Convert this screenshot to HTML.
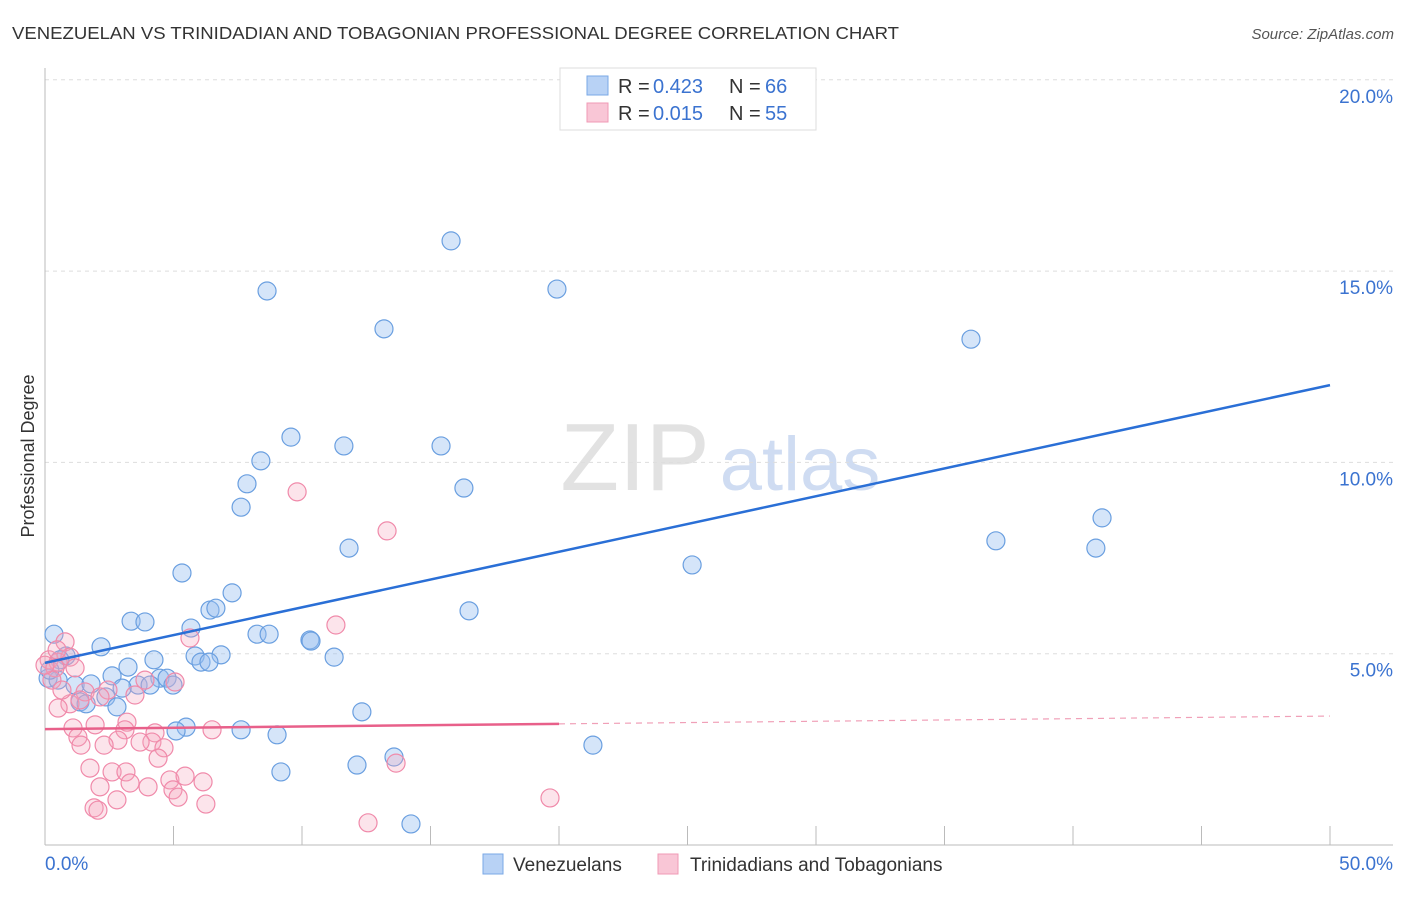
<!DOCTYPE html>
<html><head><meta charset="utf-8"><style>
body{margin:0;background:#fff;font-family:"Liberation Sans",sans-serif;}
svg text{font-family:"Liberation Sans",sans-serif;}
</style></head><body>
<svg id="chart" width="1406" height="892" xmlns="http://www.w3.org/2000/svg">
<text x="12" y="39" font-size="17.5" fill="#333" textLength="887" lengthAdjust="spacingAndGlyphs">VENEZUELAN VS TRINIDADIAN AND TOBAGONIAN PROFESSIONAL DEGREE CORRELATION CHART</text>
<text x="1394" y="39" font-size="15" fill="#555" text-anchor="end" font-style="italic">Source: ZipAtlas.com</text>
<g><text x="635" y="490" font-size="96" fill="#e2e2e2" font-family="Liberation Serif" text-anchor="middle">ZIP</text><text x="800" y="490" font-size="76" fill="#cfdcf2" text-anchor="middle">atlas</text></g>
<g id="grid"></g><g id="axes"></g><g id="marks"></g><g id="lines"></g>
<text transform="translate(34,456) rotate(-90)" font-size="18" fill="#333" text-anchor="middle">Professional Degree</text>
<g>
<rect x="560" y="68" width="256" height="62" fill="#fff" stroke="#ddd"/>
<rect x="587" y="76" width="21" height="19" fill="#b8d2f5" stroke="#7aa8e6"/>
<rect x="587" y="103" width="21" height="19" fill="#f9c6d6" stroke="#f09ab5"/>
<text x="618" y="93" font-size="20" fill="#333">R =</text><text x="653" y="93" font-size="20" fill="#3b73d0">0.423</text>
<text x="729" y="93" font-size="20" fill="#333">N =</text><text x="765" y="93" font-size="20" fill="#3b73d0">66</text>
<text x="618" y="120" font-size="20" fill="#333">R =</text><text x="653" y="120" font-size="20" fill="#3b73d0">0.015</text>
<text x="729" y="120" font-size="20" fill="#333">N =</text><text x="765" y="120" font-size="20" fill="#3b73d0">55</text>
</g>
<g>
<rect x="483" y="854" width="20" height="20" fill="#b8d2f5" stroke="#7aa8e6"/>
<text x="513" y="871" font-size="19" fill="#333">Venezuelans</text>
<rect x="658" y="854" width="20" height="20" fill="#f9c6d6" stroke="#f09ab5"/>
<text x="690" y="871" font-size="19" fill="#333">Trinidadians and Tobagonians</text>
</g>
</svg>
<script>
const yTicks=[5,10,15,20];
const yTickLabels=["5.0%","10.0%","15.0%","20.0%"];
const blueX=[15.8,8.64,19.92,13.19,36.03,9.57,11.63,15.41,8.40,16.30,7.86,7.63,41.13,37.00,40.89,11.83,25.18,5.33,7.28,6.42,6.65,16.50,3.35,3.89,5.68,0.35,8.25,8.72,10.31,10.35,2.18,11.25,6.85,5.84,4.24,6.07,6.38,3.23,0.82,2.61,4.47,4.75,0.12,0.51,1.17,1.79,3.62,4.09,3.00,4.98,2.37,1.36,1.60,2.80,12.33,5.49,5.10,7.63,9.03,21.32,13.58,12.14,9.18,14.24,0.58,0.19];
const blueY=[15.79,14.48,14.53,13.49,13.22,10.66,10.43,10.43,10.04,9.33,9.44,8.83,8.55,7.95,7.76,7.76,7.32,7.11,6.59,6.14,6.19,6.12,5.85,5.83,5.67,5.51,5.51,5.51,5.36,5.33,5.18,4.91,4.97,4.94,4.84,4.78,4.78,4.65,4.94,4.42,4.36,4.36,4.36,4.31,4.18,4.21,4.18,4.18,4.10,4.18,3.87,3.74,3.69,3.61,3.48,3.08,2.98,3.01,2.88,2.61,2.30,2.09,1.91,0.55,4.84,4.57];
const pinkX=[9.81,13.31,11.32,0.78,5.64,0.16,0.51,0.97,0.39,0.27,5.06,2.45,1.56,2.14,0.97,0.51,1.36,3.19,1.09,1.95,3.11,1.28,1.40,2.84,4.28,4.16,2.30,3.70,4.63,6.50,4.40,1.75,2.61,3.15,4.86,5.45,6.15,2.14,3.31,4.01,4.98,2.80,5.18,6.26,1.91,2.06,19.65,12.57,13.66,0.47,0.0,1.17,0.66,3.50,3.89];
const pinkY=[9.23,8.21,5.75,5.31,5.41,4.84,4.78,4.91,4.63,4.31,4.26,4.05,4.00,3.87,3.69,3.58,3.79,3.21,3.06,3.14,3.01,2.82,2.61,2.74,2.93,2.69,2.61,2.69,2.54,3.01,2.27,2.01,1.91,1.91,1.70,1.80,1.65,1.52,1.62,1.52,1.44,1.18,1.25,1.07,0.97,0.91,1.23,0.58,2.14,5.10,4.70,4.63,4.05,3.92,4.31];
const blueTrend=[4.76,12.02];
const pinkTrend=[3.03,3.37];
const NS="http://www.w3.org/2000/svg";
const X=v=>45+v*25.7, Y=v=>845-v*38.26;
function mk(p,t,a){const e=document.createElementNS(NS,t);for(const k in a)e.setAttribute(k,a[k]);p.appendChild(e);return e;}
const grid=document.getElementById('grid'),axes=document.getElementById('axes'),marks=document.getElementById('marks'),lines=document.getElementById('lines');
yTicks.forEach((t,i)=>{
 const l=mk(grid,'line',{x1:45,x2:1393,y1:Y(t),y2:Y(t),stroke:'#ddd','stroke-dasharray':'4,4'});
 
 
 const tx=mk(grid,'text',{x:1393,y:Y(t)+23,'font-size':19,fill:'#3b73d0','text-anchor':'end'});
 tx.textContent=yTickLabels[i];
 
 
});
mk(axes,'line',{x1:45,x2:45,y1:68,y2:845,stroke:'#bbb'});
mk(axes,'line',{x1:45,x2:1393,y1:845,y2:845,stroke:'#bbb'});
for(let i=1;i<=10;i++){const tk=mk(axes,'line',{x1:X(i*5),x2:X(i*5),y1:826,y2:845,stroke:'#bbb'});
 
 }
let a=mk(axes,'text',{x:45,y:870,'font-size':19,fill:'#3b73d0'});a.textContent='0.0%';


a=mk(axes,'text',{x:1393,y:870,'font-size':19,fill:'#3b73d0','text-anchor':'end'});a.textContent='50.0%';


blueX.forEach((v,i)=>{const c=mk(marks,'circle',{cx:X(v),cy:Y(blueY[i]),r:9,fill:'rgba(150,190,240,0.4)',stroke:'#6a9fe0','stroke-width':1.2});
 
 });
pinkX.forEach((v,i)=>{const c=mk(marks,'circle',{cx:X(v),cy:Y(pinkY[i]),r:9,fill:'rgba(245,165,190,0.3)',stroke:'#f08aaa','stroke-width':1.2});
 
 });
let ln=mk(lines,'line',{x1:X(0),y1:Y(blueTrend[0]),x2:X(50),y2:Y(blueTrend[1]),stroke:'#2a6fd6','stroke-width':2.5});


const pm=pinkTrend[0]+(pinkTrend[1]-pinkTrend[0])*0.4;
ln=mk(lines,'line',{x1:X(0),y1:Y(pinkTrend[0]),x2:X(20),y2:Y(pm),stroke:'#e8608a','stroke-width':2.5});


ln=mk(lines,'line',{x1:X(20),y1:Y(pm),x2:X(50),y2:Y(pinkTrend[1]),stroke:'#f0a0b8','stroke-width':1.2,'stroke-dasharray':'6,5'});


</script>
</body></html>
